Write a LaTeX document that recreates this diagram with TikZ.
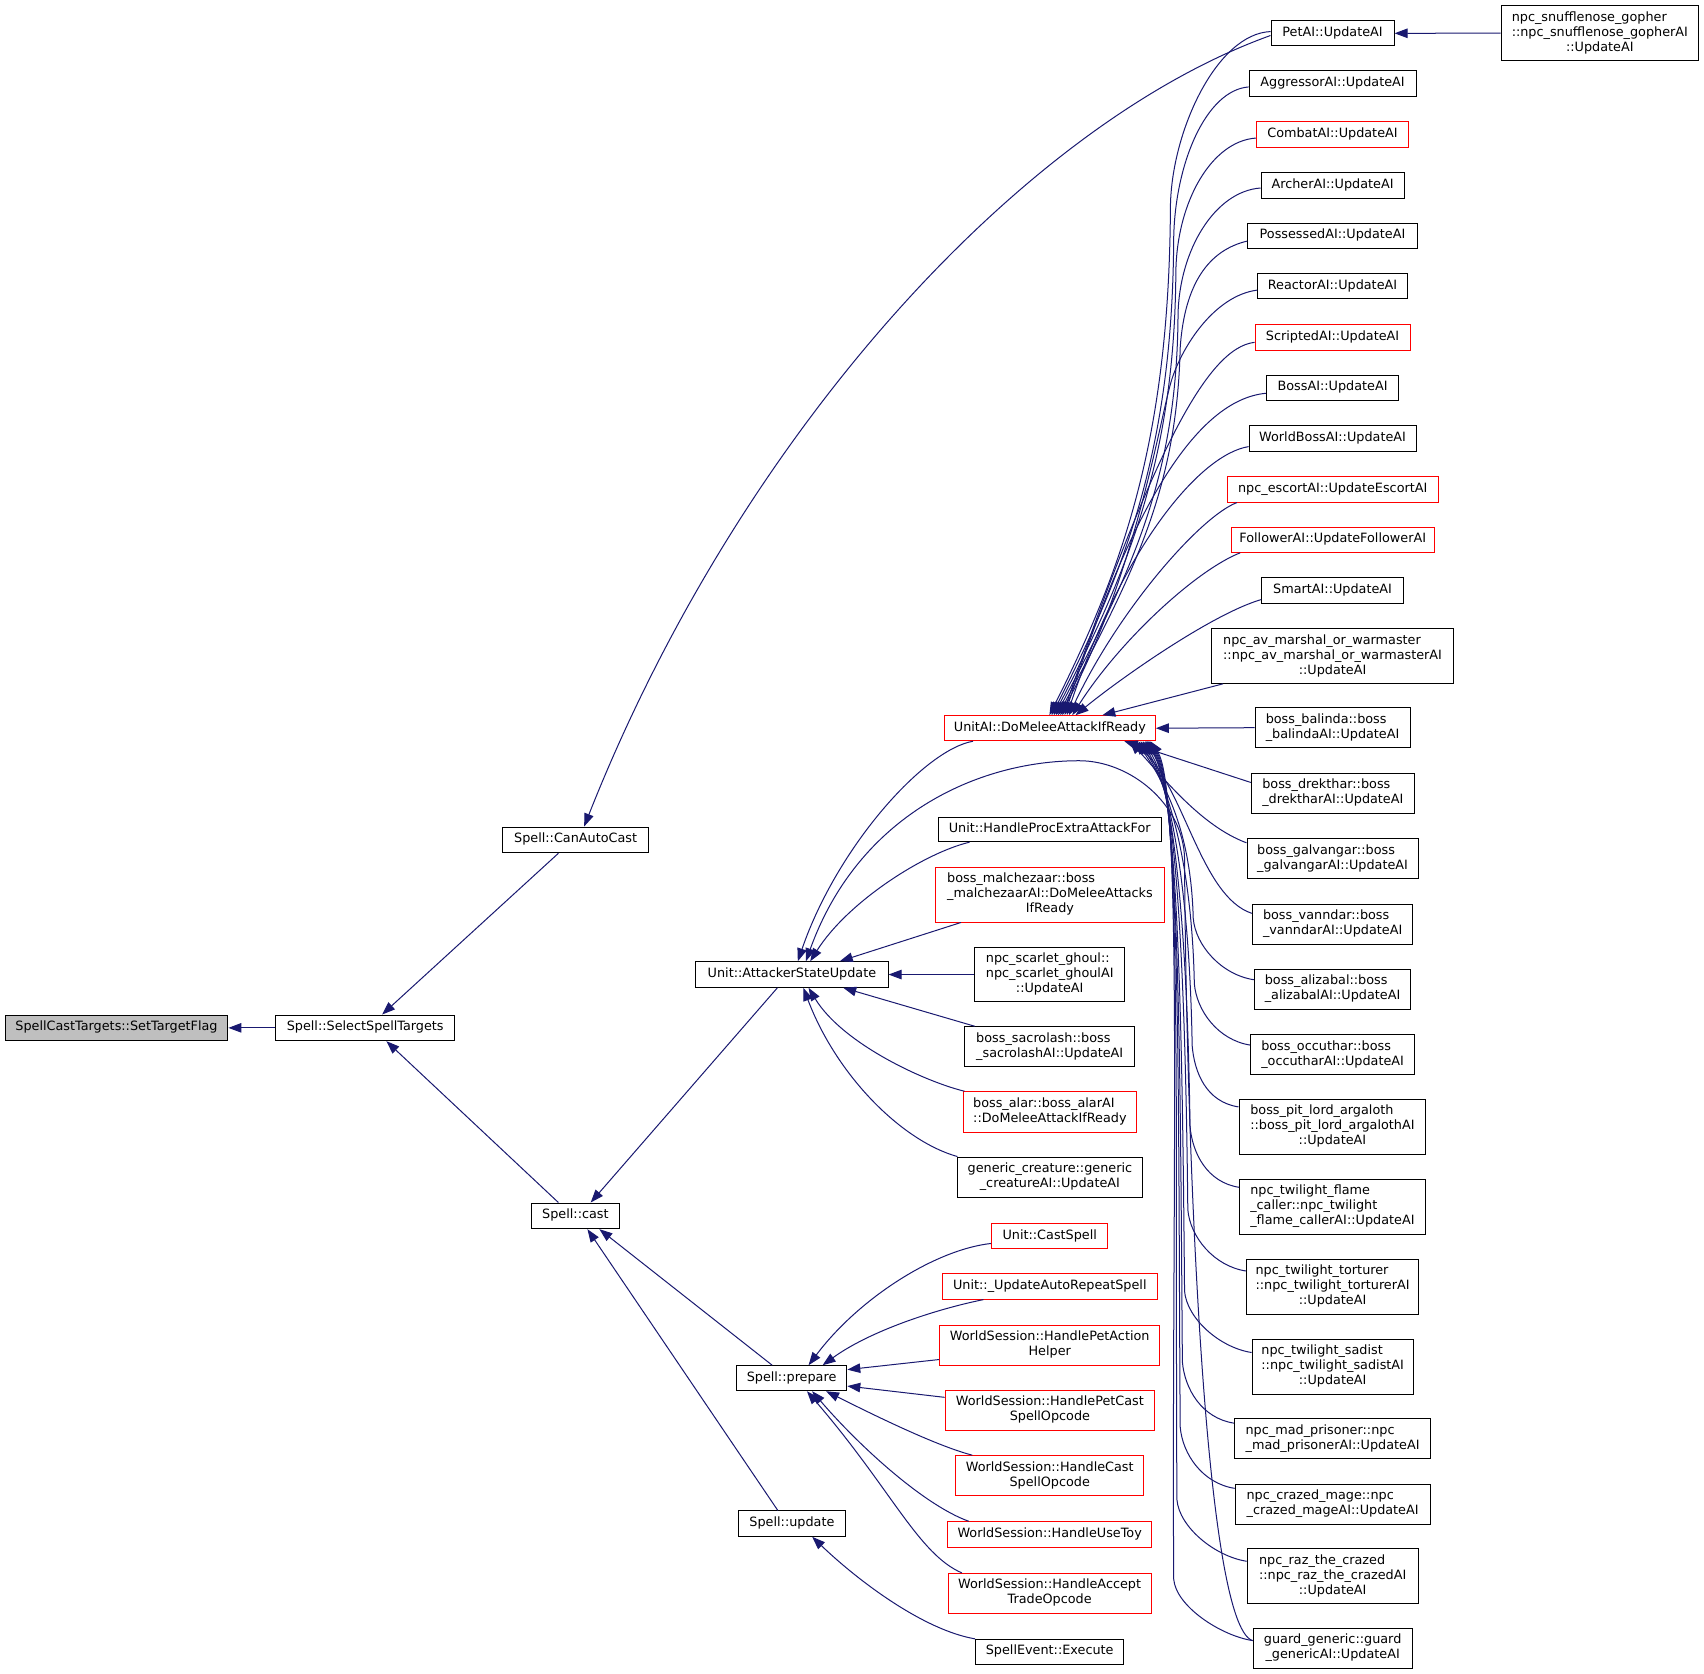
\documentclass[tikz,border=0pt]{standalone}
\usepackage{fontspec}
\setmainfont{DejaVu Sans}
\usetikzlibrary{arrows.meta,calc}
\definecolor{edgecol}{HTML}{191970}
\definecolor{redb}{HTML}{FF0000}
\definecolor{grayf}{HTML}{BFBFBF}
\newcommand\Lone[1]{\begin{tabular}{@{}c@{}}#1\end{tabular}}
\newcommand\Ltwo[2]{\begin{tabular}{@{}l@{}}#1\\\multicolumn{1}{@{}c@{}}{#2}\end{tabular}}
\newcommand\Lthree[3]{\begin{tabular}{@{}l@{}}#1\\#2\\\multicolumn{1}{@{}c@{}}{#3}\end{tabular}}
\newcommand\mkbox[7]{\node[#1, minimum width=#5*1.0867pt, minimum height=#6*1.0867pt] (#2) at (#3,#4) {#7};}
\tikzset{
  box/.style={draw=black, line width=1pt, inner sep=0pt, align=center, font=\fontsize{12.8}{15}\selectfont},
  rbox/.style={box, draw=redb},
  gbox/.style={box, fill=grayf},
  edge/.style={draw=edgecol, line width=1pt, -{Triangle[length=13pt,width=9.5pt]}},
}
\begin{document}
\begin{tikzpicture}[x=1.0867pt, y=-1.0867pt]
\fill[white] (0,0) rectangle (1568,1540);
\useasboundingbox (0,0) rectangle (1568,1540);

% left and middle
\mkbox{gbox}{stf}{107.2}{945.8}{205}{23.6}{\Lone{SpellCastTargets::SetTargetFlag}}
\mkbox{box}{sst}{336.05}{945.8}{164.9}{23.6}{\Lone{Spell::SelectSpellTargets}}
\mkbox{box}{cac}{529.7}{772.85}{133.8}{23.7}{\Lone{Spell::CanAutoCast}}
\mkbox{box}{cast}{529.5}{1118.8}{81}{23.6}{\Lone{Spell::cast}}
\mkbox{box}{asu}{728.75}{896.75}{176.9}{23.5}{\Lone{Unit::AttackerStateUpdate}}
\mkbox{box}{prep}{728.4}{1268.2}{101.6}{23}{\Lone{Spell::prepare}}
\mkbox{box}{upd}{728.75}{1402}{98.5}{23.3}{\Lone{Spell::update}}

\mkbox{rbox}{dma}{966.1}{670.1}{194}{23}{\Lone{UnitAI::DoMeleeAttackIfReady}}
\mkbox{box}{hpe}{965.9}{763.15}{205.2}{22.7}{\Lone{Unit::HandleProcExtraAttackFor}}
\mkbox{rbox}{mal}{966.15}{823.25}{210.1}{50.3}{\Lthree{boss\_malchezaar::boss}{\_malchezaarAI::DoMeleeAttacks}{IfReady}}
\mkbox{box}{ghl}{965.95}{896.75}{137.7}{50.1}{\Lthree{npc\_scarlet\_ghoul::}{npc\_scarlet\_ghoulAI}{::UpdateAI}}
\mkbox{box}{sac}{965.95}{963}{156.1}{36.4}{\Ltwo{boss\_sacrolash::boss}{\_sacrolashAI::UpdateAI}}
\mkbox{rbox}{alr}{966.1}{1023.15}{159}{37.1}{\Ltwo{boss\_alar::boss\_alarAI}{::DoMeleeAttackIfReady}}
\mkbox{box}{gen}{966.1}{1083.1}{170.6}{36.8}{\Ltwo{generic\_creature::generic}{\_creatureAI::UpdateAI}}
\mkbox{rbox}{ucs}{965.95}{1137.35}{107.1}{23.3}{\Lone{Unit::CastSpell}}
\mkbox{rbox}{uar}{966}{1183.85}{197.6}{23.1}{\Lone{Unit::\_UpdateAutoRepeatSpell}}
\mkbox{rbox}{hpa}{965.95}{1237.7}{202.7}{36.8}{\Ltwo{WorldSession::HandlePetAction}{Helper}}
\mkbox{rbox}{hpc}{966.1}{1297.8}{192.8}{36.8}{\Ltwo{WorldSession::HandlePetCast}{SpellOpcode}}
\mkbox{rbox}{hcs}{965.95}{1357.9}{173.3}{36.8}{\Ltwo{WorldSession::HandleCast}{SpellOpcode}}
\mkbox{rbox}{hut}{965.9}{1411.95}{188}{23.3}{\Lone{WorldSession::HandleUseToy}}
\mkbox{rbox}{hat}{965.85}{1466.05}{186.7}{36.5}{\Ltwo{WorldSession::HandleAccept}{TradeOpcode}}
\mkbox{box}{sex}{965.9}{1519.85}{136.4}{23.3}{\Lone{SpellEvent::Execute}}

% right column
\mkbox{box}{pet}{1226.2}{30.65}{113.2}{23.3}{\Lone{PetAI::UpdateAI}}
\mkbox{box}{snf}{1472.15}{30.5}{181.9}{50.6}{\Lthree{npc\_snufflenose\_gopher}{::npc\_snufflenose\_gopherAI}{::UpdateAI}}
\mkbox{box}{agg}{1226.2}{77}{153.6}{24}{\Lone{AggressorAI::UpdateAI}}
\mkbox{rbox}{cmb}{1226.15}{123.65}{140.3}{23.3}{\Lone{CombatAI::UpdateAI}}
\mkbox{box}{arc}{1226.2}{170.4}{131.6}{23.6}{\Lone{ArcherAI::UpdateAI}}
\mkbox{box}{pos}{1226.15}{216.85}{156.1}{23.3}{\Lone{PossessedAI::UpdateAI}}
\mkbox{box}{rea}{1226.15}{263.45}{137.7}{23.3}{\Lone{ReactorAI::UpdateAI}}
\mkbox{rbox}{scr}{1226.2}{310.25}{142.6}{23.7}{\Lone{ScriptedAI::UpdateAI}}
\mkbox{box}{bos}{1226.2}{356.9}{121.8}{23.6}{\Lone{BossAI::UpdateAI}}
\mkbox{box}{wbs}{1226.2}{403.35}{153.6}{23.3}{\Lone{WorldBossAI::UpdateAI}}
\mkbox{rbox}{esc}{1226.35}{450.3}{194.5}{23.4}{\Lone{npc\_escortAI::UpdateEscortAI}}
\mkbox{rbox}{fol}{1226.35}{496.6}{187.1}{23.2}{\Lone{FollowerAI::UpdateFollowerAI}}
\mkbox{box}{sma}{1226.2}{543.25}{130.4}{23.3}{\Lone{SmartAI::UpdateAI}}
\mkbox{box}{avm}{1226.2}{603.65}{222.4}{50.3}{\Lthree{npc\_av\_marshal\_or\_warmaster}{::npc\_av\_marshal\_or\_warmasterAI}{::UpdateAI}}
\mkbox{box}{bal}{1226.2}{669.6}{142.6}{36.8}{\Ltwo{boss\_balinda::boss}{\_balindaAI::UpdateAI}}
\mkbox{box}{dre}{1226.45}{730}{150.1}{36.8}{\Ltwo{boss\_drekthar::boss}{\_drektharAI::UpdateAI}}
\mkbox{box}{gal}{1226.2}{790.2}{157.4}{36.8}{\Ltwo{boss\_galvangar::boss}{\_galvangarAI::UpdateAI}}
\mkbox{box}{van}{1226.3}{850.3}{147.8}{36.8}{\Ltwo{boss\_vanndar::boss}{\_vanndarAI::UpdateAI}}
\mkbox{box}{ali}{1226.2}{910.4}{143.8}{36.8}{\Ltwo{boss\_alizabal::boss}{\_alizabalAI::UpdateAI}}
\mkbox{box}{occ}{1226.25}{970.55}{150.9}{36.9}{\Ltwo{boss\_occuthar::boss}{\_occutharAI::UpdateAI}}
\mkbox{box}{pit}{1226.1}{1036.8}{172}{50.4}{\Lthree{boss\_pit\_lord\_argaloth}{::boss\_pit\_lord\_argalothAI}{::UpdateAI}}
\mkbox{box}{flm}{1226.05}{1110.3}{170.7}{50.6}{\Lthree{npc\_twilight\_flame}{\_caller::npc\_twilight}{\_flame\_callerAI::UpdateAI}}
\mkbox{box}{tor}{1226.25}{1184}{158.7}{50.4}{\Lthree{npc\_twilight\_torturer}{::npc\_twilight\_torturerAI}{::UpdateAI}}
\mkbox{box}{sad}{1226.3}{1257.65}{148.4}{50.3}{\Lthree{npc\_twilight\_sadist}{::npc\_twilight\_sadistAI}{::UpdateAI}}
\mkbox{box}{mad}{1226.25}{1323.9}{180.7}{36.8}{\Ltwo{npc\_mad\_prisoner::npc}{\_mad\_prisonerAI::UpdateAI}}
\mkbox{box}{crz}{1226.25}{1384}{179.3}{36.8}{\Ltwo{npc\_crazed\_mage::npc}{\_crazed\_mageAI::UpdateAI}}
\mkbox{box}{raz}{1226.3}{1450.25}{157.4}{50.3}{\Lthree{npc\_raz\_the\_crazed}{::npc\_raz\_the\_crazedAI}{::UpdateAI}}
\mkbox{box}{grd}{1226.3}{1516.55}{146.4}{36.9}{\Ltwo{guard\_generic::guard}{\_genericAI::UpdateAI}}

% ---- edges: left part
\draw[edge] (sst.west) -- (stf.east);
\draw[edge] ($(cac.south west)+(51.5,0)$) -- ($(sst.north west)+(98.5,0)$);
\draw[edge] ($(cast.north west)+(25.3,0)$) -- ($(sst.south west)+(102.4,0)$);
\draw[edge] ($(pet.west)+(0,2)$) .. controls (940,115) and (680,400) .. ($(cac.north west)+(75.2,0)$);
\draw[edge] ($(asu.south west)+(75.5,0)$) -- ($(cast.north west)+(55,0)$);
\draw[edge] ($(prep.north west)+(33.4,0)$) -- ($(cast.south west)+(63,0)$);
\draw[edge] ($(upd.north west)+(36.7,0)$) -- ($(cast.south west)+(52,0)$);

% ---- edges into AttackerStateUpdate
\draw[edge] ($(dma.south west)+(26.7,0)$) .. controls (850,690) and (770,780) .. ($(asu.north west)+(94.3,0)$);
\draw[edge] ($(grd.north west)+(0,12)$) .. controls (1105,1495) and (1091,1000) .. (1090,790) .. controls (1089,740) and (1040,700) .. (993,700) .. controls (900,700) and (790,750) .. ($(asu.north west)+(101.7,0)$);
\draw[edge] ($(hpe.south west)+(29.3,0)$) .. controls (850,785) and (780,830) .. ($(asu.north west)+(105.7,0)$);
\draw[edge] ($(mal.south west)+(23.6,0)$) -- ($(asu.north west)+(132.9,0)$);
\draw[edge] (ghl.west) -- (asu.east);
\draw[edge] ($(sac.north west)+(9.5,0)$) -- ($(asu.south west)+(136.1,0)$);
\draw[edge] ($(alr.north west)+(1.4,0)$) .. controls (850,995) and (775,960) .. ($(asu.south west)+(104.2,0)$);
\draw[edge] ($(gen.north west)+(0.7,0)$) .. controls (830,1050) and (770,990) .. ($(asu.south west)+(99.4,0)$);

% ---- edges into prepare / update
\draw[edge] ($(ucs.west)+(0,6.85)$) .. controls (860,1150) and (790,1195) .. ($(prep.north west)+(66.9,0)$);
\draw[edge] ($(uar.south west)+(38.2,0)$) .. controls (860,1205) and (800,1225) .. ($(prep.north west)+(79.8,0)$);
\draw[edge] ($(hpa.west)+(0,13.3)$) -- ($(prep.east)+(0,-7.9)$);
\draw[edge] ($(hpc.west)+(0,-12)$) -- ($(prep.east)+(0,7.2)$);
\draw[edge] ($(hcs.north west)+(15.9,0)$) .. controls (860,1330) and (800,1300) .. ($(prep.south west)+(83,0)$);
\draw[edge] ($(hut.north west)+(20,0)$) .. controls (850,1385) and (790,1330) .. ($(prep.south west)+(70.2,0)$);
\draw[edge] ($(hat.north west)+(13,0)$) .. controls (845,1430) and (820,1370) .. ($(prep.south west)+(65.4,0)$);
\draw[edge] ($(sex.north west)+(0,0.3)$) .. controls (850,1500) and (790,1455) .. ($(upd.south west)+(68.3,0)$);

% ---- PetAI
\draw[edge] (snf.west) -- (pet.east);

% ---- top group into DoMeleeAttackIfReady
\draw[edge] ($(pet.west)+(0,-1.6)$) .. controls (1120,31) and (1078,120) .. (1077,190) .. controls (1076,400) and (1035,520) .. ($(dma.north west)+(97,0)$);
\draw[edge] ($(agg.west)+(0,3)$) .. controls (1110,83) and (1081,150) .. (1080,220) .. controls (1079,410) and (1037,522) .. ($(dma.north west)+(99,0)$);
\draw[edge] ($(cmb.west)+(0,3.4)$) .. controls (1115,130) and (1083,185) .. (1082,250) .. controls (1081,420) and (1039,524) .. ($(dma.north west)+(101,0)$);
\draw[edge] ($(arc.west)+(0,2.6)$) .. controls (1118,176) and (1085,230) .. (1084,290) .. controls (1083,440) and (1041,526) .. ($(dma.north west)+(103,0)$);
\draw[edge] ($(pos.west)+(0,5)$) .. controls (1113,230) and (1090,260) .. (1086,320) .. controls (1083,450) and (1043,528) .. ($(dma.north west)+(105,0)$);
\draw[edge] ($(rea.west)+(0,3.5)$) .. controls (1118,272) and (1088,318) .. (1078,350) .. controls (1068,382) and (1045,530) .. ($(dma.north west)+(107,0)$);
\draw[edge] ($(scr.west)+(0,4.75)$) .. controls (1110,320) and (1060,420) .. ($(dma.north west)+(109,0)$);
\draw[edge] ($(bos.west)+(0,5)$) .. controls (1100,368) and (1040,470) .. ($(dma.north west)+(111,0)$);
\draw[edge] ($(wbs.west)+(0,7.6)$) .. controls (1105,418) and (1035,500) .. ($(dma.north west)+(113,0)$);
\draw[edge] ($(esc.south west)+(9.5,0)$) .. controls (1105,475) and (1030,560) .. ($(dma.north west)+(115,0)$);
\draw[edge] ($(fol.south west)+(8.9,0)$) .. controls (1100,525) and (1030,590) .. ($(dma.north west)+(118,0)$);
\draw[edge] ($(sma.west)+(0,8.45)$) .. controls (1115,565) and (1030,625) .. ($(dma.north west)+(121,0)$);
\draw[edge] ($(avm.south west)+(10.8,0)$) -- ($(dma.north west)+(145.7,0)$);
\draw[edge] (bal.west) -- (dma.east);
\draw[edge] ($(dre.west)+(0,-10)$) -- ($(dma.south west)+(166,0)$);

% ---- lower group into DoMeleeAttackIfReady
\draw[edge] ($(gal.north west)+(0,4.2)$) .. controls (1105,760) and (1070,715) .. ($(dma.south west)+(170.9,0)$);
\draw[edge] ($(van.north west)+(0,9)$) .. controls (1105,825) and (1090,725) .. ($(dma.south west)+(173.9,0)$);
\draw[edge] ($(ali.north west)+(0,10)$) .. controls (1124,897) and (1100,870) .. (1098,845) .. controls (1096,771) and (1076,726.6) .. ($(dma.south west)+(176.9,0)$);
\draw[edge] ($(occ.north west)+(0,10)$) .. controls (1120.8,957) and (1101,930) .. (1099,905) .. controls (1097,804.5) and (1078,726.6) .. ($(dma.south west)+(178.9,0)$);
\draw[edge] ($(pit.north west)+(0,7.4)$) .. controls (1110,1014) and (1099,987) .. (1097,962) .. controls (1095,835.8) and (1080,726.6) .. ($(dma.south west)+(180.9,0)$);
\draw[edge] ($(flm.north west)+(0,8)$) .. controls (1110.7,1088) and (1097,1061) .. (1095,1036) .. controls (1093,876.4) and (1082,726.6) .. ($(dma.south west)+(182.9,0)$);
\draw[edge] ($(tor.north west)+(0,11.2)$) .. controls (1116.9,1165) and (1095,1138) .. (1093,1113) .. controls (1091,918.9) and (1084,726.6) .. ($(dma.south west)+(184.9,0)$);
\draw[edge] ($(sad.north west)+(0,12.5)$) .. controls (1122.1,1240) and (1092,1213) .. (1090,1188) .. controls (1088,960.2) and (1085,726.6) .. ($(dma.south west)+(185.9,0)$);
\draw[edge] ($(mad.north west)+(0,4.5)$) .. controls (1105.9,1305) and (1090,1278) .. (1088,1253) .. controls (1086,995.8) and (1086,726.6) .. ($(dma.south west)+(186.9,0)$);
\draw[edge] ($(crz.north west)+(0,4.4)$) .. controls (1106.6,1365) and (1088,1338) .. (1086,1313) .. controls (1084,1028.8) and (1087,726.6) .. ($(dma.south west)+(187.9,0)$);
\draw[edge] ($(raz.north west)+(0,12)$) .. controls (1117.6,1432) and (1085,1405) .. (1083,1380) .. controls (1081,1065.7) and (1088,726.6) .. ($(dma.south west)+(188.9,0)$);
\draw[edge] ($(grd.north west)+(0,12)$) .. controls (1123.1,1505) and (1082,1478) .. (1080,1453) .. controls (1078,1105.8) and (1089,726.6) .. ($(dma.south west)+(189.9,0)$);
\end{tikzpicture}
\end{document}
